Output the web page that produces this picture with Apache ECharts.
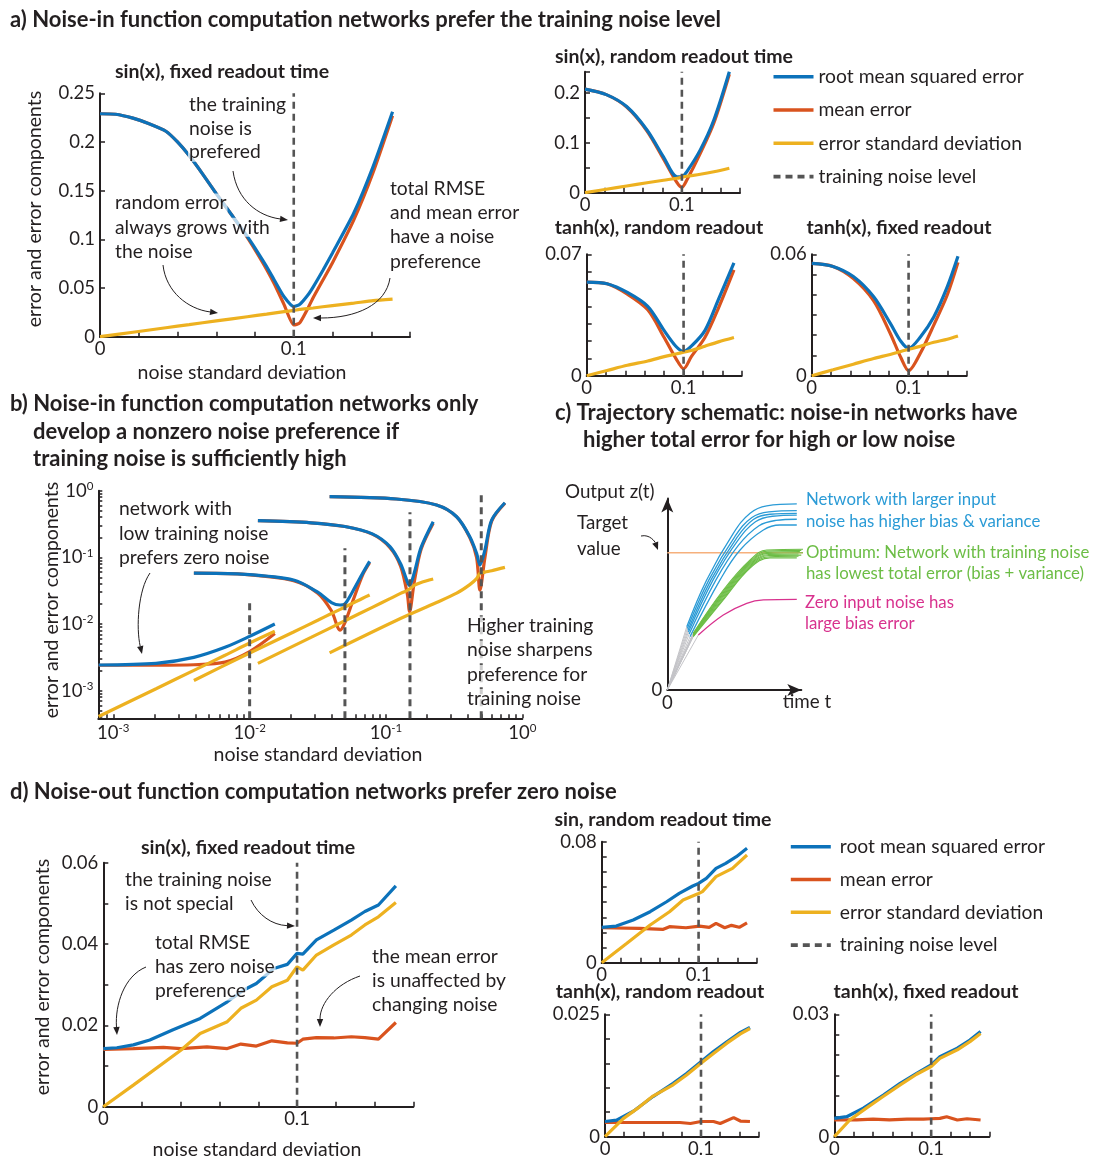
<!DOCTYPE html>
<html lang="en">
<head>
<meta charset="UTF-8">
<title>Noise preference of function computation networks</title>
<script src="https://cdn.jsdelivr.net/npm/echarts@6.0.0/dist/echarts.min.js"></script>
<style>
  html, body { margin: 0; padding: 0; background: #fff; }
  #main { width: 1094px; height: 1160px; }
</style>
</head>
<body>
<div id="main"></div>
<script>
// ---------- data ----------
// a) noise-in, sin(x), fixed readout time
const aMainX    = [0, 0.008, 0.017, 0.025, 0.034, 0.04, 0.046, 0.053, 0.06, 0.068, 0.076, 0.081, 0.086, 0.09, 0.095, 0.1, 0.103, 0.107, 0.11, 0.115, 0.12, 0.131, 0.141, 0.151];
const aMainRmse = [0.229, 0.2285, 0.2245, 0.219, 0.211, 0.2, 0.186, 0.167, 0.147, 0.125, 0.103, 0.088, 0.072, 0.058, 0.041, 0.031, 0.033, 0.042, 0.051, 0.068, 0.086, 0.127, 0.175, 0.231];
const aMainMean = [0.229, 0.2285, 0.2245, 0.219, 0.211, 0.2, 0.186, 0.167, 0.147, 0.125, 0.102, 0.086, 0.069, 0.054, 0.033, 0.012, 0.014, 0.028, 0.040, 0.058, 0.076, 0.120, 0.169, 0.227];
const aMainStdX = [0, 0.017, 0.034, 0.046, 0.06, 0.076, 0.086, 0.095, 0.1, 0.103, 0.11, 0.12, 0.131, 0.141, 0.151];
const aMainStd  = [0, 0.0046, 0.0092, 0.0124, 0.0162, 0.0205, 0.0232, 0.0257, 0.027, 0.028, 0.0295, 0.032, 0.0345, 0.037, 0.0385];
// a) sin(x), random readout time
const aS1X    = [0, 0.022, 0.043, 0.064, 0.081, 0.095, 0.1, 0.105, 0.119, 0.133, 0.149];
const aS1Rmse = [0.208, 0.197, 0.173, 0.126, 0.072, 0.032, 0.032, 0.042, 0.086, 0.146, 0.243];
const aS1Mean = [0.208, 0.197, 0.172, 0.124, 0.068, 0.020, 0.011, 0.025, 0.079, 0.140, 0.238];
const aS1Std  = [0, 0.007, 0.0135, 0.02, 0.025, 0.029, 0.031, 0.033, 0.037, 0.042, 0.049];
// a) tanh(x), random readout
const aS2X    = [0, 0.021, 0.042, 0.063, 0.08, 0.092, 0.1, 0.108, 0.122, 0.136, 0.152];
const aS2Rmse = [0.054, 0.053, 0.048, 0.040, 0.026, 0.017, 0.014, 0.017, 0.026, 0.044, 0.065];
const aS2Mean = [0.054, 0.053, 0.047, 0.038, 0.022, 0.010, 0.004, 0.011, 0.022, 0.039, 0.061];
const aS2Std  = [0, 0.003, 0.006, 0.0085, 0.011, 0.0125, 0.0135, 0.0145, 0.017, 0.0195, 0.022];
// a) tanh(x), fixed readout
const aS3X    = [0, 0.022, 0.043, 0.064, 0.081, 0.092, 0.1, 0.112, 0.126, 0.14, 0.151];
const aS3Rmse = [0.0555, 0.054, 0.049, 0.039, 0.026, 0.017, 0.0135, 0.019, 0.029, 0.044, 0.059];
const aS3Mean = [0.0555, 0.054, 0.048, 0.037, 0.021, 0.009, 0.0025, 0.011, 0.025, 0.040, 0.056];
const aS3Std  = [0, 0.0029, 0.0057, 0.0085, 0.0105, 0.012, 0.013, 0.0145, 0.0165, 0.018, 0.0196];

// b) four networks trained at different noise levels (log-log)
const bTrain    = [0.01, 0.05, 0.15, 0.5];
const bTrainTop = [0.0205, 0.137, 0.474, 1.0];
const b1X    = [0.00078, 0.00206, 0.0039, 0.0066, 0.01, 0.0153];
const b1Rmse = [0.00243, 0.00257, 0.00316, 0.00447, 0.00653, 0.0100];
const b1Mean = [0.00241, 0.00241, 0.00245, 0.00268, 0.00385, 0.0072];
const b1Std  = [0.00041, 0.00107, 0.00202, 0.0034, 0.0052, 0.0078];
const b2X    = [0.0039, 0.0087, 0.021, 0.0316, 0.0398, 0.0461, 0.05, 0.0566, 0.0676, 0.0759];
const b2Rmse = [0.058, 0.056, 0.0457, 0.030, 0.021, 0.0193, 0.020, 0.030, 0.058, 0.087];
const b2Mean = [0.058, 0.056, 0.0447, 0.029, 0.0158, 0.0081, 0.0105, 0.021, 0.055, 0.083];
const b2Std  = [0.00142, 0.0032, 0.0076, 0.0114, 0.0144, 0.0166, 0.018, 0.0204, 0.0244, 0.0272];
const b3X    = [0.0115, 0.0282, 0.05, 0.0794, 0.107, 0.128, 0.1435, 0.149, 0.161, 0.181, 0.222];
const b3Rmse = [0.355, 0.33, 0.29, 0.225, 0.145, 0.080, 0.043, 0.038, 0.058, 0.141, 0.343];
const b3Mean = [0.355, 0.33, 0.29, 0.223, 0.140, 0.074, 0.028, 0.0153, 0.042, 0.132, 0.324];
const b3Std  = [0.00257, 0.0063, 0.0112, 0.0178, 0.024, 0.0288, 0.032, 0.0335, 0.038, 0.042, 0.0473];
const b4X    = [0.0386, 0.119, 0.235, 0.33, 0.412, 0.462, 0.489, 0.532, 0.596, 0.746];
const b4Rmse = [0.813, 0.75, 0.61, 0.407, 0.204, 0.115, 0.0767, 0.129, 0.363, 0.66];
const b4Mean = [0.813, 0.75, 0.61, 0.405, 0.198, 0.100, 0.0324, 0.100, 0.350, 0.65];
const b4Std  = [0.0037, 0.0113, 0.021, 0.029, 0.039, 0.048, 0.0575, 0.060, 0.063, 0.0708];

// c) trajectory schematic (time t, output z) in schematic units
const cTarget = 0.692;
const cBlueCurves = [
  [[0.138, 0.319], [0.279, 0.555], [0.468, 0.790], [0.587, 0.891], [0.705, 0.928], [0.918, 0.938]],
  [[0.142, 0.310], [0.295, 0.555], [0.480, 0.775], [0.600, 0.870], [0.720, 0.898], [0.918, 0.904]],
  [[0.146, 0.300], [0.310, 0.555], [0.490, 0.765], [0.610, 0.860], [0.730, 0.886], [0.918, 0.891]],
  [[0.150, 0.292], [0.325, 0.555], [0.498, 0.752], [0.625, 0.848], [0.745, 0.876], [0.918, 0.882]],
  [[0.155, 0.282], [0.345, 0.555], [0.505, 0.730], [0.650, 0.828], [0.770, 0.855], [0.918, 0.861]],
  [[0.161, 0.269], [0.374, 0.555], [0.516, 0.706], [0.681, 0.807], [0.799, 0.832], [0.918, 0.832]]
];
const cGreenCurves = [
  [[0.184, 0.286], [0.397, 0.504], [0.587, 0.656], [0.705, 0.706], [0.965, 0.710]],
  [[0.184, 0.284], [0.397, 0.497], [0.587, 0.650], [0.708, 0.700], [0.950, 0.704]],
  [[0.184, 0.281], [0.397, 0.490], [0.587, 0.645], [0.710, 0.694], [0.940, 0.698]],
  [[0.184, 0.279], [0.397, 0.483], [0.587, 0.639], [0.714, 0.689], [0.965, 0.692]],
  [[0.184, 0.277], [0.397, 0.476], [0.587, 0.633], [0.717, 0.683], [0.930, 0.686]],
  [[0.184, 0.274], [0.397, 0.469], [0.587, 0.627], [0.720, 0.678], [0.950, 0.680]],
  [[0.184, 0.272], [0.397, 0.461], [0.587, 0.621], [0.724, 0.672], [0.930, 0.674]],
  [[0.184, 0.269], [0.397, 0.454], [0.587, 0.615], [0.728, 0.666], [0.918, 0.666]]
];
const cZeroNoise = [[0.22, 0.277], [0.397, 0.378], [0.563, 0.437], [0.681, 0.454], [0.918, 0.457]];

// d) noise-out, sin(x), fixed readout time
const dMainX     = [0, 0.007, 0.0155, 0.024, 0.036, 0.05, 0.064, 0.0725, 0.079, 0.088, 0.095, 0.1, 0.103, 0.11, 0.119, 0.128, 0.135, 0.142, 0.151];
const dMainRmse  = [0.0143, 0.0145, 0.0152, 0.0164, 0.0189, 0.0217, 0.0258, 0.0287, 0.0303, 0.034, 0.035, 0.0377, 0.0375, 0.041, 0.0434, 0.0459, 0.048, 0.0496, 0.0543];
const dMainStdX  = [0, 0.0155, 0.04, 0.05, 0.064, 0.071, 0.079, 0.087, 0.095, 0.1, 0.103, 0.11, 0.119, 0.128, 0.135, 0.142, 0.151];
const dMainStd   = [0, 0.0053, 0.0139, 0.018, 0.0209, 0.0242, 0.0262, 0.0295, 0.0311, 0.0344, 0.0336, 0.0373, 0.0398, 0.0422, 0.0447, 0.0467, 0.0502];
const dMainMeanX = [0, 0.0155, 0.031, 0.04, 0.0535, 0.064, 0.071, 0.079, 0.087, 0.095, 0.1, 0.103, 0.11, 0.119, 0.128, 0.135, 0.142, 0.151];
const dMainMean  = [0.0141, 0.0143, 0.0146, 0.0143, 0.0147, 0.0143, 0.0154, 0.0149, 0.0162, 0.0157, 0.0156, 0.0166, 0.017, 0.0169, 0.0172, 0.017, 0.0166, 0.0207];
// d) sin, random readout time
const dS1X     = [0, 0.015, 0.0325, 0.05, 0.067, 0.08, 0.094, 0.1, 0.108, 0.118, 0.128, 0.139, 0.15];
const dS1Rmse  = [0.0234, 0.0242, 0.0282, 0.0337, 0.0403, 0.0458, 0.0507, 0.0524, 0.0558, 0.0624, 0.0657, 0.0701, 0.0756];
const dS1StdX  = [0, 0.026, 0.05, 0.07, 0.084, 0.1, 0.104, 0.118, 0.135, 0.15];
const dS1Std   = [0, 0.0128, 0.0249, 0.0337, 0.0414, 0.0458, 0.047, 0.0569, 0.0624, 0.0712];
const dS1MeanX = [0, 0.039, 0.063, 0.07, 0.087, 0.101, 0.111, 0.118, 0.127, 0.134, 0.142, 0.15];
const dS1Mean  = [0.0231, 0.0227, 0.022, 0.0238, 0.0231, 0.0242, 0.0234, 0.026, 0.0231, 0.0247, 0.0234, 0.0264];
// d) tanh(x), random readout
const dS2X     = [0, 0.012, 0.0295, 0.05, 0.071, 0.085, 0.1, 0.113, 0.127, 0.141, 0.151];
const dS2Rmse  = [0.0031, 0.0034, 0.0052, 0.0082, 0.0109, 0.0129, 0.0153, 0.0174, 0.0194, 0.0213, 0.0223];
const dS2StdX  = [0, 0.019, 0.036, 0.05, 0.071, 0.085, 0.1, 0.113, 0.127, 0.141, 0.151];
const dS2Std   = [0, 0.0037, 0.0061, 0.0083, 0.0106, 0.0126, 0.015, 0.017, 0.0191, 0.021, 0.0221];
const dS2MeanX = [0, 0.036, 0.064, 0.078, 0.089, 0.1, 0.113, 0.12, 0.134, 0.141, 0.151];
const dS2Mean  = [0.0029, 0.0029, 0.0029, 0.0029, 0.0027, 0.0031, 0.0031, 0.0027, 0.0039, 0.0032, 0.0031];
// d) tanh(x), fixed readout
const dS3X     = [0, 0.0128, 0.03, 0.0507, 0.068, 0.085, 0.1, 0.109, 0.127, 0.14, 0.151];
const dS3Rmse  = [0.0045, 0.0049, 0.007, 0.0102, 0.0131, 0.0155, 0.0176, 0.0196, 0.0217, 0.0237, 0.0258];
const dS3StdX  = [0, 0.016, 0.033, 0.05, 0.068, 0.085, 0.1, 0.109, 0.127, 0.14, 0.151];
const dS3Std   = [0, 0.0041, 0.007, 0.0098, 0.0127, 0.0153, 0.0172, 0.0192, 0.0213, 0.0233, 0.0253];
const dS3MeanX = [0, 0.023, 0.04, 0.057, 0.075, 0.092, 0.1, 0.109, 0.116, 0.127, 0.137, 0.151];
const dS3Mean  = [0.0041, 0.0041, 0.0043, 0.0041, 0.0043, 0.0043, 0.0044, 0.0045, 0.0049, 0.0041, 0.0044, 0.0041];

const trainNoise = 0.1;
const logTickExps = [-3, -2, -1, 0];

// ---------- style ----------
const INK = '#231f20';
const FONT = 'Lato, "Noto Sans", "DejaVu Sans", sans-serif';
const C_RMSE = '#0c72ba', C_MEAN = '#d9531e', C_STD = '#edb120', C_TRAIN = '#555555';
const N_RMSE = 'root mean squared error', N_MEAN = 'mean error',
      N_STD = 'error standard deviation', N_TRAIN = 'training noise level';

const myChart = echarts.init(document.getElementById('main'));

// grid boxes: [left, top, width, height]
const boxes = [
  [100, 93.3, 310, 243.4],    // 0 a main
  [585, 71.7, 155, 121],      // 1 a sin random
  [586.7, 254.3, 155, 121.4], // 2 a tanh random
  [811.7, 254.3, 155, 121.4], // 3 a tanh fixed
  [98.3, 490.7, 424, 227.6],  // 4 b log-log
  [667.3, 498.6, 134, 191.4], // 5 c schematic
  [103.3, 862.7, 310, 244],   // 6 d main
  [601.7, 841.7, 155, 121],   // 7 d sin random
  [605, 1014.3, 153.6, 122.4],// 8 d tanh random
  [834.3, 1014.3, 155, 122.4] // 9 d tanh fixed
];
const grids = boxes.map(b => ({ left: b[0], top: b[1], width: b[2], height: b[3],
  containLabel: false, outerBoundsMode: 'none' }));

function linAxis(gi, isX, max, step, labels) {
  return {
    type: 'value', gridIndex: gi, min: 0, max: max, interval: step,
    position: isX ? 'bottom' : 'left',
    axisLine: { show: true, onZero: false, lineStyle: { color: INK, width: 2 } },
    axisTick: { show: true, inside: true, length: 5, lineStyle: { color: INK, width: 1.5 } },
    splitLine: { show: false },
    axisLabel: {
      color: INK, fontSize: 18.5, fontFamily: FONT, margin: isX ? 3 : 5,
      formatter: v => {
        const hit = labels.find(l => Math.abs(l - v) < 1e-9);
        return hit === undefined ? '' : String(hit);
      }
    }
  };
}

function logAxis(gi, isX, min, max) {
  const ticks = [];
  for (let e = -4; e <= 0; e++) {
    for (let k = 1; k <= 9; k++) {
      const v = e + Math.log10(k);
      if (v >= min - 1e-9 && v <= max + 1e-9) ticks.push(v);
    }
  }
  return {
    type: 'value', gridIndex: gi, min: min, max: max,
    position: isX ? 'bottom' : 'left',
    axisLine: { show: true, onZero: false, lineStyle: { color: INK, width: 2 } },
    axisTick: { show: true, inside: true, length: 4, customValues: ticks, lineStyle: { color: INK, width: 1.5 } },
    splitLine: { show: false },
    axisLabel: {
      color: INK, fontFamily: FONT, margin: isX ? 4 : 5,
      customValues: logTickExps,
      formatter: v => '{b|10}{s|' + Math.round(v) + '}',
      rich: {
        b: { fontSize: 18.5, fontFamily: FONT, color: INK, lineHeight: 21 },
        s: { fontSize: 11.5, fontFamily: FONT, color: INK, lineHeight: 12, verticalAlign: 'top' }
      }
    }
  };
}

function arrowAxis(gi, isX, max) {
  return {
    type: 'value', gridIndex: gi, min: 0, max: max,
    position: isX ? 'bottom' : 'left',
    axisLine: { show: true, onZero: false, symbol: ['none', 'arrow'], symbolSize: [9, 14],
      lineStyle: { color: INK, width: 2 } },
    axisTick: { show: false },
    splitLine: { show: false },
    axisLabel: { color: INK, fontSize: 18.5, fontFamily: FONT, margin: isX ? 4 : 5,
      formatter: v => (v === 0 ? '0' : '') }
  };
}

const X01 = [0, 0.1];
const xAxes = [
  linAxis(0, true, 0.16, 0.02, X01),
  linAxis(1, true, 0.16, 0.02, X01),
  linAxis(2, true, 0.16, 0.02, X01),
  linAxis(3, true, 0.16, 0.02, X01),
  logAxis(4, true, -3.11, 0),
  arrowAxis(5, true, 0.95),
  linAxis(6, true, 0.16, 0.02, X01),
  linAxis(7, true, 0.16, 0.02, X01),
  linAxis(8, true, 0.16, 0.02, X01),
  linAxis(9, true, 0.16, 0.02, X01)
];
const yAxes = [
  linAxis(0, false, 0.25, 0.05, [0, 0.05, 0.1, 0.15, 0.2, 0.25]),
  linAxis(1, false, 0.243, 0.05, [0, 0.1, 0.2]),
  linAxis(2, false, 0.07, 0.01, [0, 0.07]),
  linAxis(3, false, 0.06, 0.01, [0, 0.06]),
  logAxis(4, false, -3.414, 0),
  arrowAxis(5, false, 0.965),
  linAxis(6, false, 0.06, 0.01, [0, 0.02, 0.04, 0.06]),
  linAxis(7, false, 0.08, 0.01, [0, 0.08]),
  linAxis(8, false, 0.025, 0.005, [0, 0.025]),
  linAxis(9, false, 0.03, 0.005, [0, 0.03])
];

function ser(name, gi, xs, ys, color, opt) {
  opt = opt || {};
  const tx = opt.log ? Math.log10 : (v => v);
  return {
    type: 'line', name: name, xAxisIndex: gi, yAxisIndex: gi,
    data: xs.map((x, i) => [tx(x), tx(ys[i])]),
    symbol: 'none', showSymbol: false, smooth: opt.smooth || false,
    lineStyle: { color: color, width: opt.width || 3.2, type: opt.dash || 'solid' },
    itemStyle: { color: color },
    z: opt.z || 2, silent: true, clip: opt.clip !== false, animation: false
  };
}
function trio(gi, mx, m, rx, r, sx, s, o) {
  o = o || {};
  return [
    ser(N_MEAN, gi, mx, m, C_MEAN, { log: o.log, smooth: o.smooth }),
    ser(N_RMSE, gi, rx, r, C_RMSE, { log: o.log, smooth: o.smooth }),
    ser(N_STD, gi, sx, s, C_STD, { log: o.log, smooth: o.smooth })
  ];
}
function trainLine(gi, top) {
  return ser(N_TRAIN, gi, [trainNoise, trainNoise], [0, top], C_TRAIN, { dash: [7, 5], width: 2.6, z: 5 });
}

const series = [];
const SM = { smooth: 0.3 };
// panel a
series.push(...trio(0, aMainX, aMainMean, aMainX, aMainRmse, aMainStdX, aMainStd, { smooth: 0.2 }), trainLine(0, 0.25));
series.push(...trio(1, aS1X, aS1Mean, aS1X, aS1Rmse, aS1X, aS1Std, SM), trainLine(1, 0.243));
series.push(...trio(2, aS2X, aS2Mean, aS2X, aS2Rmse, aS2X, aS2Std, SM), trainLine(2, 0.07));
series.push(...trio(3, aS3X, aS3Mean, aS3X, aS3Rmse, aS3X, aS3Std, SM), trainLine(3, 0.06));
// panel b
[[b1X, b1Rmse, b1Mean, b1Std], [b2X, b2Rmse, b2Mean, b2Std],
 [b3X, b3Rmse, b3Mean, b3Std], [b4X, b4Rmse, b4Mean, b4Std]].forEach(n => {
  series.push(...trio(4, n[0], n[2], n[0], n[1], n[0], n[3], { log: true, smooth: 0.3 }));
});
bTrain.forEach((t, i) => {
  series.push({
    type: 'line', name: N_TRAIN, xAxisIndex: 4, yAxisIndex: 4, symbol: 'none', silent: true,
    data: [[Math.log10(t), -3.414], [Math.log10(t), Math.log10(bTrainTop[i])]],
    lineStyle: { color: C_TRAIN, width: 3, type: [7, 5] }, itemStyle: { color: C_TRAIN }, z: 5
  });
});
// panel c
const cStarts = [...cBlueCurves, ...cGreenCurves, cZeroNoise].map(c => c[0]);
cStarts.forEach(p => {
  series.push({ type: 'line', xAxisIndex: 5, yAxisIndex: 5, symbol: 'none', silent: true,
    data: [[0, 0], p], lineStyle: { color: '#c4c4c8', width: 1 }, z: 1 });
});
series.push({ type: 'line', xAxisIndex: 5, yAxisIndex: 5, symbol: 'none', silent: true, clip: false,
  data: [[0, cTarget], [0.965, cTarget]], lineStyle: { color: '#f6b07c', width: 1.6 }, z: 1 });
cBlueCurves.forEach(c => {
  series.push({ type: 'line', xAxisIndex: 5, yAxisIndex: 5, symbol: 'none', silent: true, smooth: 0.4,
    data: c, lineStyle: { color: '#2b9bd6', width: 1.3 }, z: 2 });
});
cGreenCurves.forEach(c => {
  series.push({ type: 'line', xAxisIndex: 5, yAxisIndex: 5, symbol: 'none', silent: true, smooth: 0.4,
    clip: false, data: c, lineStyle: { color: '#6cbd45', width: 1.1 }, z: 3 });
});
series.push({ type: 'line', xAxisIndex: 5, yAxisIndex: 5, symbol: 'none', silent: true, smooth: 0.4,
  data: cZeroNoise, lineStyle: { color: '#d8328e', width: 1.3 }, z: 3 });
// panel d
series.push(...trio(6, dMainMeanX, dMainMean, dMainX, dMainRmse, dMainStdX, dMainStd), trainLine(6, 0.06));
series.push(...trio(7, dS1MeanX, dS1Mean, dS1X, dS1Rmse, dS1StdX, dS1Std), trainLine(7, 0.08));
series.push(...trio(8, dS2MeanX, dS2Mean, dS2X, dS2Rmse, dS2StdX, dS2Std), trainLine(8, 0.025));
series.push(...trio(9, dS3MeanX, dS3Mean, dS3X, dS3Rmse, dS3StdX, dS3Std), trainLine(9, 0.03));

// ---------- text and annotation arrows ----------
function T(text, x, y, o) {
  o = o || {};
  const style = { text: text, fill: o.color || INK, fontSize: o.size || 19.3, fontFamily: FONT,
    fontWeight: o.bold ? 'bold' : 'normal', align: o.align || 'left', verticalAlign: 'middle' };
  if (o.halo) { style.backgroundColor = 'rgba(255,255,255,0.7)'; style.padding = [0, 1]; }
  return { type: 'text', x: x, y: y, rotation: o.rot || 0, z: 100, silent: true, style: style };
}
function block(lines, x, y0, dy, o) {
  return lines.map((s, i) => T(s, x, y0 + i * dy, Object.assign({ halo: true }, o || {})));
}
function arrow(x1, y1, c1x, c1y, c2x, c2y, x2, y2) {
  const a = Math.atan2(y2 - c2y, x2 - c2x);
  const L = 8, W = 3.2;
  const bx = x2 - L * Math.cos(a), by = y2 - L * Math.sin(a);
  return [
    { type: 'bezierCurve', z: 101, silent: true,
      shape: { x1: x1, y1: y1, x2: bx, y2: by, cpx1: c1x, cpy1: c1y, cpx2: c2x, cpy2: c2y },
      style: { stroke: INK, lineWidth: 1, fill: null } },
    { type: 'polygon', z: 101, silent: true,
      shape: { points: [[x2, y2], [bx - W * Math.sin(a), by + W * Math.cos(a)], [bx + W * Math.sin(a), by - W * Math.cos(a)]] },
      style: { fill: INK } }
  ];
}
const HB = { size: 22, bold: true };
const ST = { size: 19.5, bold: true, align: 'center' };
const ROT = { rot: Math.PI / 2, align: 'center', size: 19.5 };
const CX = { size: 16.8 };
const elements = [
  T('a) Noise-in function computation networks prefer the training noise level', 10, 20, HB),
  T('b) Noise-in function computation networks only', 10, 404, HB),
  T('develop a nonzero noise preference if', 33, 432, HB),
  T('training noise is sufficiently high', 33, 459, HB),
  T('c) Trajectory schematic: noise-in networks have', 555, 413, HB),
  T('higher total error for high or low noise', 583, 440, HB),
  T('d) Noise-out function computation networks prefer zero noise', 10, 792, HB),

  T('sin(x), fixed readout time', 222, 72, ST),
  T('sin(x), random readout time', 674, 57, ST),
  T('tanh(x), random readout', 659, 228, ST),
  T('tanh(x), fixed readout', 899, 228, ST),
  T('sin(x), fixed readout time', 248, 848, ST),
  T('sin, random readout time', 663, 820, ST),
  T('tanh(x), random readout', 660, 992, ST),
  T('tanh(x), fixed readout', 926, 992, ST),

  T('error and error components', 35, 209, ROT),
  T('noise standard deviation', 242, 373, { align: 'center', size: 19.5 }),
  T('error and error components', 52, 600, ROT),
  T('noise standard deviation', 318, 755, { align: 'center', size: 19.5 }),
  T('error and error components', 43, 977, ROT),
  T('noise standard deviation', 257, 1150, { align: 'center', size: 19.5 }),

  ...block(['the training', 'noise is', 'prefered'], 188, 105, 23.6),
  ...block(['random error', 'always grows with', 'the noise'], 114, 203, 24.3),
  ...block(['total RMSE', 'and mean error', 'have a noise', 'preference'], 389, 188.5, 24.3),
  ...arrow(233, 171, 237, 200, 258, 216, 288, 220),
  ...arrow(163, 265, 166, 292, 188, 309, 218, 313),
  ...arrow(390, 278, 386, 305, 356, 318, 313, 318),

  ...block(['network with', 'low training noise', 'prefers zero noise'], 118, 509, 24.5),
  ...block(['Higher training', 'noise sharpens', 'preference for', 'training noise'], 466, 626, 24.2),
  ...arrow(150, 573, 138, 590, 136, 628, 142, 654),

  T('Output z(t)', 565, 492, { size: 18.8 }),
  T('Target', 577, 523, { size: 18.8 }),
  T('value', 577, 548.5, { size: 18.8 }),
  T('time t', 807, 702, { size: 18.8, align: 'center' }),
  ...arrow(641, 536, 650, 534, 655, 542, 658, 550),
  ...block(['Network with larger input', 'noise has higher bias & variance'], 806, 499.5, 22, Object.assign({ color: '#2b9bd6', halo: false }, CX)),
  ...block(['Optimum: Network with training noise', 'has lowest total error (bias + variance)'], 806, 552.5, 21, Object.assign({ color: '#6cbd45', halo: false }, CX)),
  ...block(['Zero input noise has', 'large bias error'], 805, 602.5, 21, Object.assign({ color: '#d8328e', halo: false }, CX)),

  ...block(['the training noise', 'is not special'], 124, 880, 23.5),
  ...block(['total RMSE', 'has zero noise', 'preference'], 154, 943, 24),
  ...block(['the mean error', 'is unaffected by', 'changing noise'], 371, 957, 24),
  ...arrow(251, 900, 258, 915, 272, 925, 295, 926),
  ...arrow(146, 967, 124, 976, 115, 1005, 117, 1035),
  ...arrow(360, 976, 336, 984, 320, 1003, 320, 1027)
];

const legendBase = {
  data: [N_RMSE, N_MEAN, N_STD, N_TRAIN], orient: 'vertical', padding: 0,
  itemWidth: 40, itemHeight: 14, selectedMode: false,
  itemStyle: { color: 'rgba(0,0,0,0)', borderColor: 'rgba(0,0,0,0)', borderWidth: 0 },
  lineStyle: { width: 3.6 },
  textStyle: { fontSize: 19.3, fontFamily: FONT, color: INK, lineHeight: 19 }
};

const option = {
  animation: false,
  backgroundColor: '#ffffff',
  grid: grids,
  xAxis: xAxes,
  yAxis: yAxes,
  legend: [
    Object.assign({}, legendBase, { left: 771.7, top: 67.2, itemGap: 14.3 }),
    Object.assign({}, legendBase, { left: 789, top: 837.2, itemGap: 13.8,
      textStyle: { fontSize: 19.3, fontFamily: FONT, color: INK, lineHeight: 19, padding: [0, 0, 0, 4] } })
  ],
  series: series,
  graphic: { elements: elements }
};

myChart.setOption(option);
</script>
</body>
</html>
